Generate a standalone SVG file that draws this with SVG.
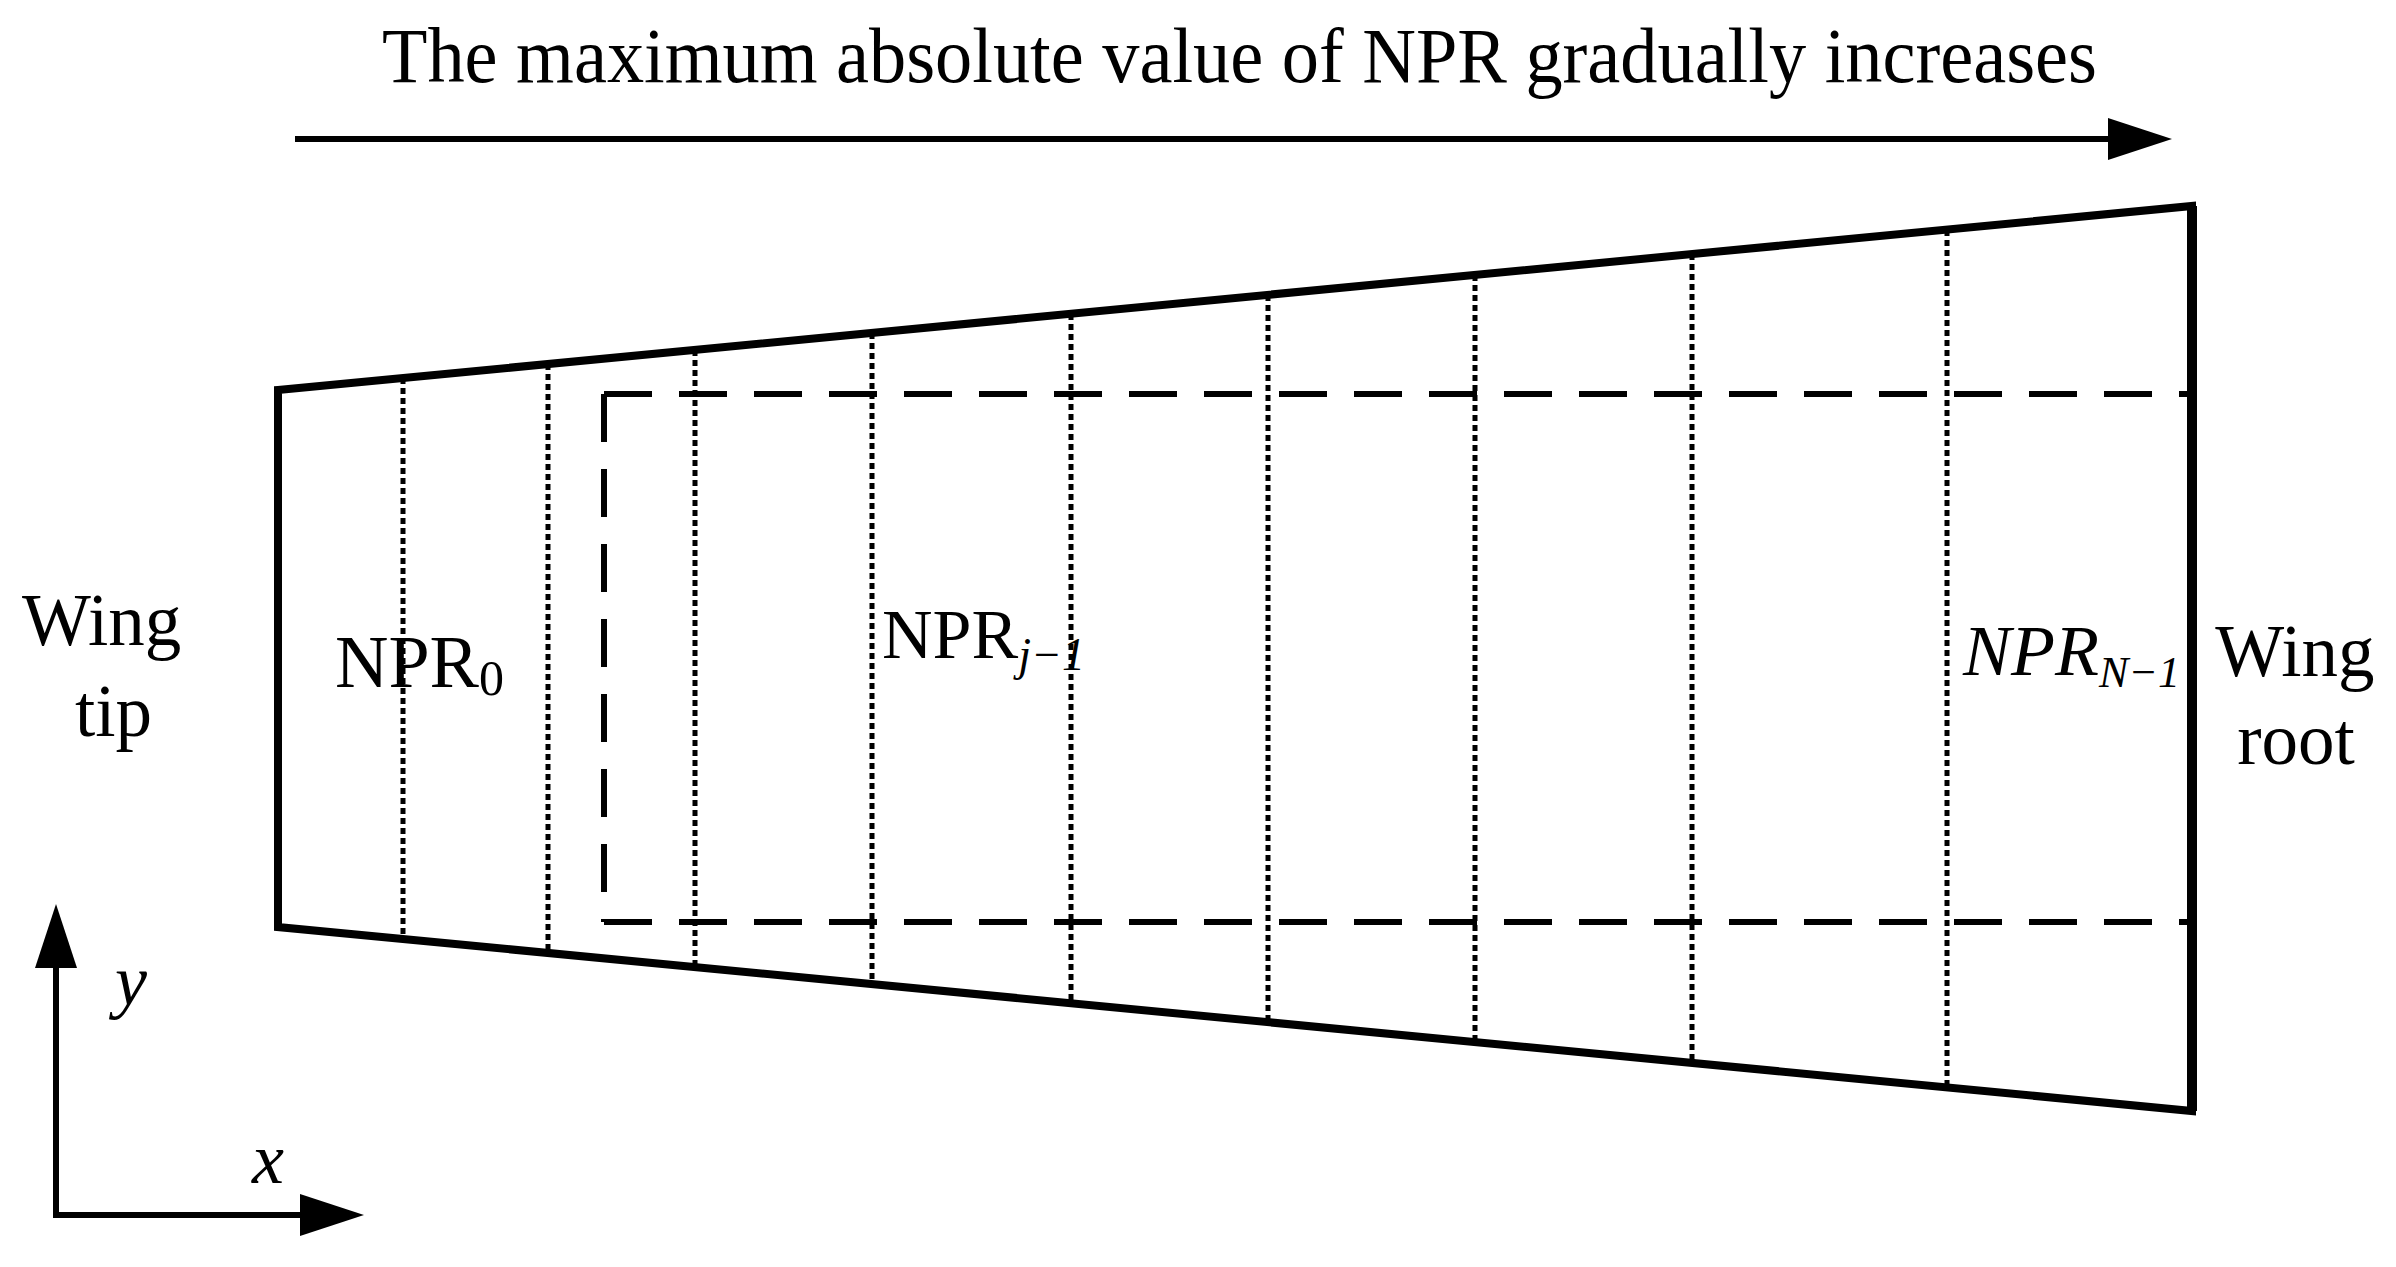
<svg xmlns="http://www.w3.org/2000/svg" width="2396" height="1267" viewBox="0 0 2396 1267">
  <style>
    .txt { font-family: "Liberation Serif", "Times New Roman", serif; fill: #000; }
    .it { font-style: italic; }
    .outline { fill: none; stroke: #000; stroke-width: 8; stroke-linejoin: miter; }
    .dotted { fill: none; stroke: #000; stroke-width: 5; stroke-dasharray: 6 4; }
    .dashed { fill: none; stroke: #000; stroke-width: 6; stroke-dasharray: 48 27; }
    .arrow { fill: none; stroke: #000; stroke-width: 6; }
  </style>
  <defs>
    <marker id="head" markerUnits="userSpaceOnUse" markerWidth="66" markerHeight="44" refX="0" refY="21" orient="auto-start-reverse" viewBox="0 0 66 44">
      <path d="M0,0 L64,21 L0,42 Z" fill="#000"/>
    </marker>
  </defs>
  <rect width="2396" height="1267" fill="#fff"/>

  <g id="title">
    <text class="txt" x="382" y="82" font-size="78" textLength="1715" lengthAdjust="spacingAndGlyphs">The maximum absolute value of NPR gradually increases</text>
  </g>

  <g id="connectors">
    <line class="arrow" x1="295" y1="139" x2="2108" y2="139" marker-end="url(#head)"/>
    <path class="arrow" stroke-width="5" d="M56,968 V1215 H300" marker-start="url(#head)" marker-end="url(#head)"/>
  </g>

  <g id="wing">
    <g id="sections">
      <line class="dotted" x1="403" y1="378" x2="403" y2="939"/>
      <line class="dotted" x1="548" y1="364" x2="548" y2="953"/>
      <line class="dotted" x1="695" y1="350" x2="695" y2="967"/>
      <line class="dotted" x1="872" y1="333" x2="872" y2="984"/>
      <line class="dotted" x1="1071" y1="314" x2="1071" y2="1003"/>
      <line class="dotted" x1="1268" y1="295" x2="1268" y2="1022"/>
      <line class="dotted" x1="1475" y1="275" x2="1475" y2="1042"/>
      <line class="dotted" x1="1692" y1="254" x2="1692" y2="1063"/>
      <line class="dotted" x1="1947" y1="230" x2="1947" y2="1087"/>
    </g>
    <g id="dashed-region">
      <line class="dashed" x1="604" y1="394" x2="2192" y2="394"/>
      <line class="dashed" x1="604" y1="394" x2="604" y2="922"/>
      <line class="dashed" x1="604" y1="922" x2="2192" y2="922"/>
    </g>
    <path class="outline" d="M278,390 L2192,206 L2192,1111 L278,927 Z"/>
    <line x1="2192" y1="206" x2="2192" y2="1111" stroke="#000" stroke-width="10"/>
  </g>

  <g id="label-npr0">
    <text class="txt" x="335" y="687" font-size="74">NPR<tspan font-size="50" dy="8">0</tspan></text>
  </g>
  <g id="label-nprj">
    <text class="txt" x="882" y="658" font-size="70">NPR<tspan class="it" font-size="46" dy="12">j−1</tspan></text>
  </g>
  <g id="label-nprN">
    <text class="txt it" x="1963" y="675" font-size="72">NPR<tspan font-size="44" dy="12">N−1</tspan></text>
  </g>

  <g id="label-wing-tip">
    <text class="txt" x="22" y="645" font-size="73">Wing</text>
    <text class="txt" x="75" y="736" font-size="73">tip</text>
  </g>
  <g id="label-wing-root">
    <text class="txt" x="2295" y="676" font-size="73" text-anchor="middle">Wing</text>
    <text class="txt" x="2296" y="764" font-size="73" text-anchor="middle">root</text>
  </g>

  <g id="axis-labels">
    <text class="txt it" x="115" y="1005" font-size="72">y</text>
    <text class="txt it" x="252" y="1183" font-size="72">x</text>
  </g>
</svg>
